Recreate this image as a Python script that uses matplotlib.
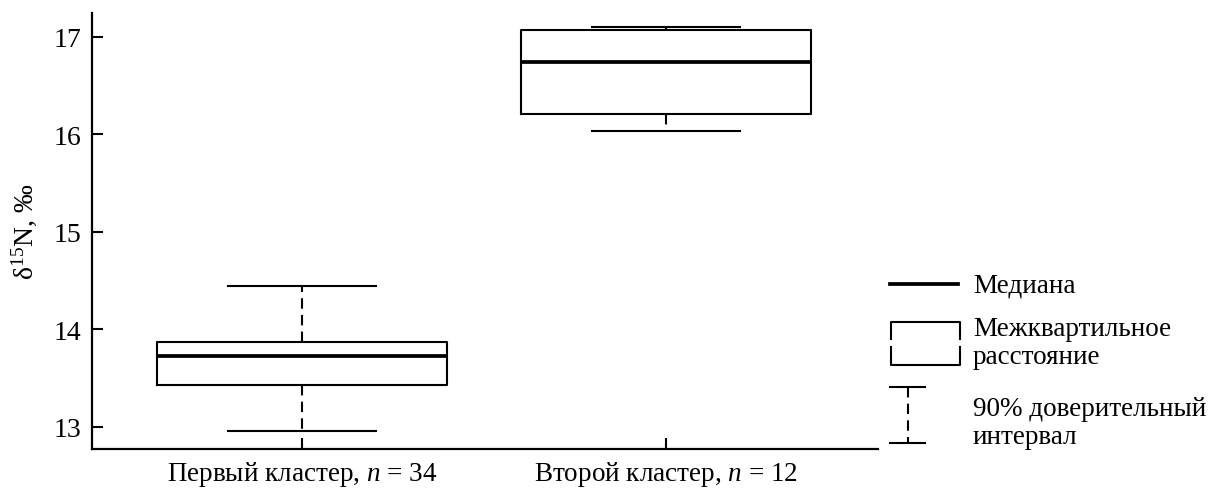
import matplotlib
matplotlib.use("Agg")
import matplotlib.pyplot as plt

plt.rcParams['font.family'] = ['Liberation Serif', 'DejaVu Serif']
plt.rcParams['mathtext.fontset'] = 'custom'
plt.rcParams['mathtext.rm'] = 'Liberation Serif'
plt.rcParams['mathtext.it'] = 'Liberation Serif:italic'

# data
clusters = ["Первый кластер, $n$ = 34", "Второй кластер, $n$ = 12"]
ci_low = [12.96, 16.04]
q1 = [13.43, 16.21]
median = [13.73, 16.74]
q3 = [13.87, 17.07]
ci_high = [14.45, 17.10]
yticks = [13, 14, 15, 16, 17]

stats = []
for i in range(len(clusters)):
    stats.append({"whislo": ci_low[i], "q1": q1[i], "med": median[i],
                  "q3": q3[i], "whishi": ci_high[i], "fliers": []})

fig = plt.figure(figsize=(12.11, 4.89), dpi=100)
ax = fig.add_axes([92 / 1211, 1 - 450 / 489, (878 - 92) / 1211, (450 - 14) / 489])

ax.bxp(stats, positions=[1, 2], widths=0.797, capwidths=0.407, showfliers=False,
       boxprops=dict(color="black", linewidth=1.5),
       medianprops=dict(color="black", linewidth=2.7),
       whiskerprops=dict(color="black", linewidth=1.5, linestyle=(0, (5, 3))),
       capprops=dict(color="black", linewidth=1.5))

ax.set_xlim(0.423, 2.582)
ax.set_ylim(12.774, 17.246)
ax.set_yticks(yticks)
ax.set_xticks([1, 2])
ax.set_xticklabels(clusters, fontsize=19.5)
ax.tick_params(axis="y", direction="in", length=8, width=1.5, labelsize=20, pad=8)
ax.tick_params(axis="x", direction="in", length=8, width=1.5, pad=7)
for s in ["top", "right"]:
    ax.spines[s].set_visible(False)
for s in ["left", "bottom"]:
    ax.spines[s].set_linewidth(1.6)
ax.set_ylabel("δ$^{15}$N, $\\mathit{‰}$", fontsize=20, labelpad=10)

# legend drawn in figure pixel space
lg = fig.add_axes([0, 0, 1, 1])
lg.set_xlim(0, 1211)
lg.set_ylim(489, 0)
lg.axis("off")
lg.plot([890, 958], [285, 285], color="black", lw=2.7)
lg.plot([891, 891, 960, 960], [340, 323, 323, 340], color="black", lw=1.5)
lg.plot([891, 891, 960, 960], [348, 366, 366, 348], color="black", lw=1.5)
lg.plot([890, 925], [388, 388], color="black", lw=1.5)
lg.plot([890, 925], [444, 444], color="black", lw=1.5)
lg.plot([908, 908], [388, 444], color="black", lw=1.5, linestyle=(0, (5, 3)))
txt = dict(fontsize=19.5, va="center", ha="left")
lg.text(973, 286, "Медиана", **txt)
lg.text(973, 330, "Межквартильное", **txt)
lg.text(973, 358, "расстояние", **txt)
lg.text(973, 410, "90% доверительный", **txt)
lg.text(973, 438, "интервал", **txt)

fig.savefig("out.png", dpi=100)
